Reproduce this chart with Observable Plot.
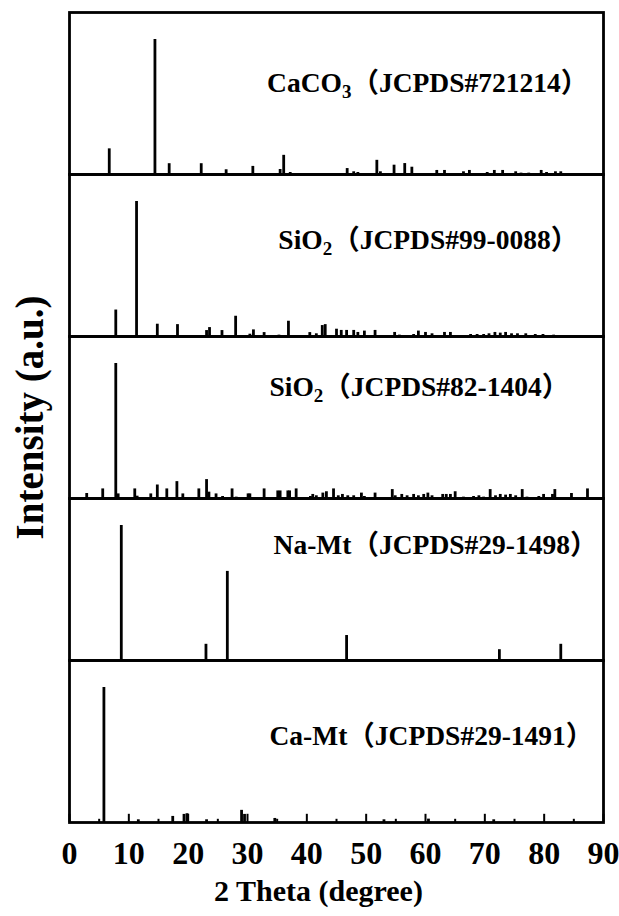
<!DOCTYPE html>
<html><head><meta charset="utf-8">
<script src="https://cdn.jsdelivr.net/npm/d3@7"></script>
<script src="https://cdn.jsdelivr.net/npm/@observablehq/plot@0.6"></script>
<style>
body{margin:0;background:#fff;}
#chart svg{display:block}
[aria-label="fy-axis label"] text{font-size:39px}
</style></head><body><div id="chart"></div>
<script>
// Panels (top to bottom)
const panelNames = ["CaCO3", "SiO2-99", "SiO2-82", "Na-Mt", "Ca-Mt"];
const labelMain = ["CaCO", "SiO", "SiO", "Na-Mt", "Ca-Mt"];
const labelSub  = ["3", "2", "2", "", ""];
const labelRef  = ["（JCPDS#721214）", "（JCPDS#99-0088）", "（JCPDS#82-1404）", "（JCPDS#29-1498）", "（JCPDS#29-1491）"];
const labelX = [33.3, 35.2, 33.7, 34.4, 33.7];
const labelY = [67.5, 71.5, 82.6, 85.5, 64.0];

// CaCO3 (JCPDS#721214)
const caco3Theta = [6.7, 14.4, 16.8, 22.2, 26.4, 30.9, 35.5, 36.1, 37.2, 46.8, 47.9, 48.6, 51.8, 52.4, 54.7, 56.5, 57.7, 61.9, 63.2, 66.4, 67.4, 70.4, 71.6, 73.0, 75.2, 76.1, 77.4, 79.5, 80.4, 81.9, 82.8];
const caco3Int   = [19, 100, 8, 8, 3.5, 6, 3.7, 14.2, 1.5, 4.4, 2, 1.5, 10.5, 2, 6.9, 8.1, 5.4, 3, 3, 2, 3, 1.5, 3, 3, 2, 1, 1, 3, 1.5, 2, 2];

// SiO2 (JCPDS#99-0088)
const sio2aTheta = [7.8, 11.3, 14.8, 18.2, 23.1, 23.6, 25.7, 28.0, 30.4, 31.0, 32.8, 35.3, 36.9, 40.5, 41.6, 42.6, 43.1, 45.0, 45.8, 46.7, 47.9, 48.6, 49.7, 51.5, 54.8, 55.6, 58.0, 58.8, 60.0, 61.1, 63.2, 64.2, 67.6, 68.7, 69.8, 70.7, 71.7, 72.6, 73.5, 74.5, 75.5, 76.9, 78.5, 79.8, 81.6];
const sio2aInt   = [19.6, 100, 9.1, 8.8, 4.4, 6.6, 4.4, 15, 1.7, 4.9, 2.9, 1, 11.3, 2.9, 2, 8.1, 8.8, 5.4, 4.5, 4.5, 4.5, 3, 4, 4.5, 3, 1, 1.5, 4, 3, 2, 3, 3, 1.5, 1.5, 1.5, 2, 3, 2.5, 3, 2, 2, 2, 1.5, 1.5, 1];

// SiO2 (JCPDS#82-1404)
const sio2bTheta = [2.9, 5.6, 7.8, 8.2, 11.0, 11.4, 13.7, 14.8, 16.4, 18.1, 19.1, 21.8, 23.1, 23.5, 24.7, 25.8, 27.4, 28.1, 30.1, 30.4, 32.8, 35.1, 35.5, 36.8, 37.1, 38.2, 40.6, 41.0, 41.6, 42.7, 43.3, 44.5, 45.3, 46.0, 46.9, 47.9, 49.2, 49.7, 51.5, 54.4, 54.9, 56.0, 56.9, 58.0, 58.8, 59.7, 60.4, 61.1, 62.9, 63.5, 64.2, 65.0, 66.4, 68.1, 69.0, 69.8, 70.9, 71.8, 72.6, 73.5, 74.3, 75.2, 76.3, 77.1, 79.1, 79.9, 81.4, 81.8, 84.6, 87.3];
const sio2bInt   = [3.7, 7.1, 100, 3.4, 7.1, 1.7, 3.4, 10, 7.1, 12.5, 3.4, 7.1, 14, 4.7, 3.4, 1.5, 7.1, 1, 3.4, 3.4, 7.1, 5.6, 5.6, 5.6, 5.6, 7.1, 1.5, 3, 2, 4, 5, 7.1, 2, 3, 2, 2, 4, 1.5, 4, 6.6, 2, 3, 2, 3, 2, 3, 4, 2, 3, 3, 3, 5, 1, 1.5, 2, 1, 6.6, 2, 3, 2.5, 3, 2, 6.6, 1, 1.5, 3, 3, 6.6, 3.7, 7.1];

// Na-Mt (JCPDS#29-1498)
const naMtTheta = [8.73, 23.0, 26.6, 46.7, 72.45, 82.8];
const naMtInt   = [100, 12, 66, 18.5, 8, 12];

// Ca-Mt (JCPDS#29-1491)
const caMtTheta = [5.8, 11.6, 17.4, 19.3, 19.8, 23.1, 29.0, 29.5, 34.6, 53.0, 60.5, 71.5];
const caMtInt   = [100, 2, 4.5, 6, 6.5, 2, 9, 6, 3, 2, 2.5, 2];

// Axis
const xTicks = [0, 10, 20, 30, 40, 50, 60, 70, 80, 90];
const xMinorTicks = [5, 15, 25, 35, 45, 55, 65, 75, 85];
const xTitle = "2 Theta (degree)";
const yTitle = "Intensity (a.u.)";

const thetaSets = [caco3Theta, sio2aTheta, sio2bTheta, naMtTheta, caMtTheta];
const intSets = [caco3Int, sio2aInt, sio2bInt, naMtInt, caMtInt];
const peaks = [];
panelNames.forEach((p, k) => thetaSets[k].forEach((t, i) => peaks.push({panel: p, theta: t, intensity: intSets[k][i]})));
const labelFull = panelNames.map((p, i) => labelMain[i] + labelSub[i] + labelRef[i]);
const labels = panelNames.map((p, i) => ({panel: p, x: labelX[i], y: labelY[i], text: labelFull[i]}));
const bottomPanel = panelNames[panelNames.length - 1];

const FONT = "'Liberation Serif','Times New Roman','Noto Sans CJK SC',serif";
const W = 619, H = 916, MT = 10, MB = 92;
const panelH = (H - MT - MB) / panelNames.length;

const chart = Plot.plot({
  width: W, height: H,
  marginTop: MT, marginBottom: MB, marginLeft: 69, marginRight: 16,
  style: {fontFamily: FONT, fontWeight: "bold", fontSize: "32px", color: "black", background: "white", overflow: "visible"},
  x: {domain: [0, 90]},
  y: {domain: [0, 120], axis: null},
  fy: {domain: panelNames, padding: 0, axis: null},
  marks: [
    Plot.ruleX(peaks, {x: "theta", y1: 0, y2: "intensity", fy: "panel", stroke: "black", strokeWidth: 2.8}),
    Plot.tickX(xTicks, {x: d => d, fy: () => bottomPanel, stroke: "black", strokeWidth: 2, insetTop: panelH - 9}),
    Plot.tickX(xMinorTicks, {x: d => d, fy: () => bottomPanel, stroke: "black", strokeWidth: 2, insetTop: panelH - 4}),
    Plot.text(labels, {x: "x", y: "y", fy: "panel", text: "text", textAnchor: "start", fontSize: 27.5, fontWeight: "bold", fill: "black"}),
    Plot.frame({stroke: "black", strokeWidth: 2.8}),
    Plot.axisX({anchor: "bottom", ticks: xTicks, tickSize: 0, tickPadding: 19, fontSize: 32, label: null, tickFormat: d => String(d)}),
    Plot.text([xTitle], {text: d => d, frameAnchor: "bottom", lineAnchor: "middle", fy: () => bottomPanel, dy: 69, dx: -18, fontSize: 30, fontWeight: "bold"}),
    Plot.axisFy({anchor: "left", label: yTitle, labelAnchor: "center", labelOffset: 54, tickSize: 0, tickFormat: () => "", fontSize: 39})
  ]
});

// chemical subscripts
chart.querySelectorAll("text").forEach(t => {
  const i = labelFull.indexOf(t.textContent);
  if (i < 0) return;
  const ns = "http://www.w3.org/2000/svg";
  t.textContent = "";
  const a = document.createElementNS(ns, "tspan"); a.textContent = labelMain[i]; t.appendChild(a);
  if (labelSub[i]) {
    const s = document.createElementNS(ns, "tspan"); s.textContent = labelSub[i];
    s.setAttribute("dy", "6"); s.setAttribute("font-size", "19"); t.appendChild(s);
    const r = document.createElementNS(ns, "tspan"); r.textContent = labelRef[i]; r.setAttribute("dy", "-6"); t.appendChild(r);
  } else {
    const r = document.createElementNS(ns, "tspan"); r.textContent = labelRef[i]; t.appendChild(r);
  }
});
document.getElementById("chart").appendChild(chart);
</script></body></html>
